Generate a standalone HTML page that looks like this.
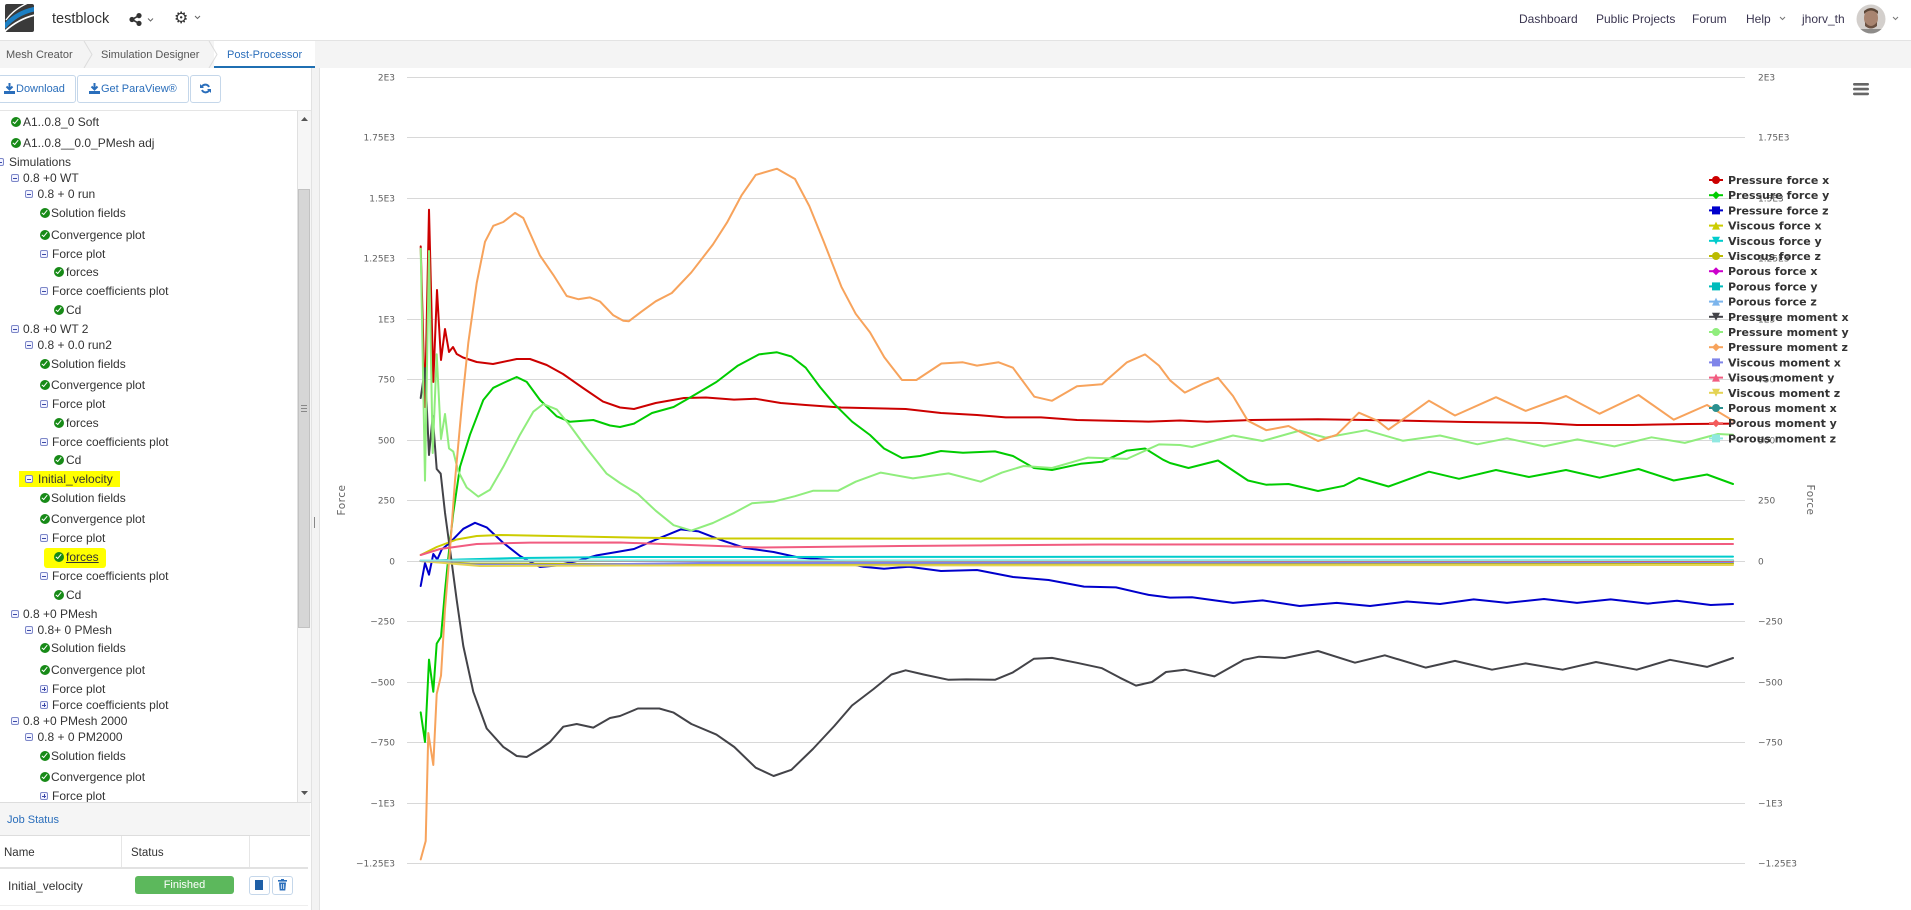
<!DOCTYPE html>
<html><head><meta charset="utf-8">
<style>
html,body{margin:0;padding:0}
body{width:1911px;height:910px;position:relative;overflow:hidden;background:#fff;font-family:"Liberation Sans",sans-serif;color:#333}
.a{position:absolute;white-space:nowrap}
.t{position:absolute;white-space:nowrap;font-size:12px;line-height:14px;color:#333}
.ck{position:absolute;width:10px;height:10px;border-radius:50%;background:#178a17}
.ck:after{content:"";position:absolute;left:3.2px;top:1.4px;width:2.4px;height:5px;border:solid #fff;border-width:0 1.7px 1.7px 0;transform:rotate(40deg)}
.mn{position:absolute;width:6px;height:6px;border:1px solid #7d87c8;border-radius:2px;background:#f2f3ff}
.mn:after{content:"";position:absolute;left:1px;top:2.5px;width:4px;height:1px;background:#3c4aa8}
.pl:before{content:"";position:absolute;left:2.5px;top:1px;width:1px;height:4px;background:#3c4aa8}
.btn{position:absolute;border:1px solid #c5d7ea;border-radius:3px;background:#fff;box-sizing:border-box}
.nav{position:absolute;font-size:12px;line-height:14px;top:12px;color:#3a3550;white-space:nowrap}
</style></head><body>

<!-- top bar -->
<svg class="a" style="left:5px;top:4px" width="29" height="28" viewBox="0 0 29 28">
<rect width="29" height="28" rx="2" fill="#3a3a3a"/>
<path d="M-1 23 Q11 9 30 5" stroke="#1b7fc4" stroke-width="4.5" fill="none"/>
<path d="M-1 28 Q13 15 30 11" stroke="#fff" stroke-width="1.8" fill="none"/>
<path d="M1 16 Q9 5 23 -1" stroke="#fff" stroke-width="1.4" fill="none"/>
</svg>
<div class="a" style="left:52px;top:11px;font-size:14.5px;line-height:17px;color:#333">testblock</div>
<svg class="a" style="left:129px;top:13px" width="30" height="13">
<g fill="#333"><circle cx="3" cy="6.5" r="2.6"/><circle cx="10" cy="2.6" r="2.6"/><circle cx="10" cy="10.4" r="2.6"/></g>
<path d="M3 6.5 L10 2.6 M3 6.5 L10 10.4" stroke="#333" stroke-width="1.6"/>
<path d="M19 5.5 L21.5 8 L24 5.5" stroke="#666" stroke-width="1" fill="none"/>
</svg>
<div class="a" style="left:174px;top:9px;font-family:'DejaVu Sans',sans-serif;font-size:16px;line-height:18px;color:#333">⚙</div>
<svg class="a" style="left:194px;top:15px" width="10" height="6"><path d="M1 1 L3.5 3.5 L6 1" stroke="#666" stroke-width="1" fill="none"/></svg>

<div class="nav" style="left:1519px">Dashboard</div>
<div class="nav" style="left:1596px">Public Projects</div>
<div class="nav" style="left:1692px">Forum</div>
<div class="nav" style="left:1746px">Help</div>
<svg class="a" style="left:1779px;top:16px" width="8" height="5"><path d="M1 1 L3.5 3.5 L6 1" stroke="#777" stroke-width="1" fill="none"/></svg>
<div class="nav" style="left:1802px">jhorv_th</div>
<svg class="a" style="left:1856px;top:4px" width="30" height="30">
<defs><clipPath id="av"><circle cx="15" cy="15" r="14.5"/></clipPath></defs>
<g clip-path="url(#av)">
<rect width="30" height="30" fill="#d3cfcc"/>
<ellipse cx="15" cy="14" rx="7" ry="9" fill="#a88470"/>
<path d="M8 10 Q15 3 22 10 L22 7 Q15 1 8 7Z" fill="#5b4637"/>
<path d="M9 18 Q15 26 21 18 L21 22 Q15 27 9 22Z" fill="#6b5142"/>
<rect x="3" y="25" width="24" height="6" fill="#8e8c8a"/>
</g></svg>
<svg class="a" style="left:1892px;top:16px" width="8" height="5"><path d="M1 1 L3.5 3.5 L6 1" stroke="#777" stroke-width="1" fill="none"/></svg>

<div class="a" style="left:0;top:40px;width:1911px;height:1px;background:#e3e3e3"></div>
<!-- tabs row -->
<div class="a" style="left:0;top:41px;width:1911px;height:27px;background:#f4f4f4"></div>
<div class="a" style="left:214px;top:41px;width:101px;height:25px;background:#fff"></div>
<div class="a" style="left:214px;top:66px;width:101px;height:2px;background:#1f6fb2"></div>
<svg class="a" style="left:0;top:41px" width="320" height="27">
<path d="M84 0 L92 13.5 L84 27" stroke="#dcdcdc" fill="none"/>
<path d="M209 0 L217 13.5 L209 27" stroke="#dcdcdc" fill="none"/>
</svg>
<div class="a" style="left:6px;top:48px;font-size:11px;line-height:14px;color:#555">Mesh Creator</div>
<div class="a" style="left:101px;top:48px;font-size:11px;line-height:14px;color:#555">Simulation Designer</div>
<div class="a" style="left:227px;top:48px;font-size:11px;line-height:14px;color:#2a6ebb">Post-Processor</div>

<!-- splitter -->
<div class="a" style="left:311px;top:68px;width:9px;height:842px;background:#f3f3f3;border-left:1px solid #e2e2e2;border-right:1px solid #e2e2e2;box-sizing:border-box"></div>
<div class="a" style="left:314px;top:517px;width:1px;height:11px;background:#888"></div>

<!-- buttons -->
<div class="btn" style="left:-2px;top:75px;width:78px;height:28px"></div>
<div class="btn" style="left:77px;top:75px;width:112px;height:28px"></div>
<div class="btn" style="left:190px;top:75px;width:31px;height:28px"></div>
<svg class="a" style="left:4px;top:83px" width="11" height="11"><path d="M5.5 0 V6 M2.5 3.5 L5.5 6.5 L8.5 3.5" stroke="#2a6ebb" stroke-width="2" fill="none"/><rect x="0" y="8" width="11" height="3" fill="#2a6ebb"/></svg>
<div class="a" style="left:16px;top:82px;font-size:11px;line-height:14px;color:#2a6ebb">Download</div>
<svg class="a" style="left:89px;top:83px" width="11" height="11"><path d="M5.5 0 V6 M2.5 3.5 L5.5 6.5 L8.5 3.5" stroke="#2a6ebb" stroke-width="2" fill="none"/><rect x="0" y="8" width="11" height="3" fill="#2a6ebb"/></svg>
<div class="a" style="left:101px;top:82px;font-size:11px;line-height:14px;color:#2a6ebb">Get ParaView®</div>
<svg class="a" style="left:200px;top:83px" width="11" height="11"><path d="M9 4 A4 4 0 0 0 2 3.5" stroke="#2a6ebb" stroke-width="2" fill="none"/><path d="M2 7 A4 4 0 0 0 9 7.5" stroke="#2a6ebb" stroke-width="2" fill="none"/><path d="M0 1 L4 5 L0 5Z M11 10 L7 6 L11 6Z" fill="#2a6ebb"/></svg>
<div class="a" style="left:0;top:110px;width:311px;height:1px;background:#e5e5e5"></div>

<!-- tree -->
<div class="a" style="left:0;top:111px;width:297px;height:691px;overflow:hidden">
<div style="position:absolute;left:0;top:-111px;width:297px;height:910px">
<div class="a" style="left:19px;top:471px;width:101px;height:16px;background:#ffff00"></div>
<div class="a" style="left:44px;top:548px;width:62px;height:20px;background:#ffff00;border-radius:3px"></div>

<div class="ck" style="left:11px;top:117px"></div><div class="t" style="left:23px;top:115px">A1..0.8_0 Soft</div>
<div class="ck" style="left:11px;top:138px"></div><div class="t" style="left:23px;top:136px">A1..0.8__0.0_PMesh adj</div>
<div class="mn" style="left:-4px;top:158px"></div><div class="t" style="left:9px;top:155px">Simulations</div>
<div class="mn" style="left:11px;top:174px"></div><div class="t" style="left:23px;top:171px">0.8 +0 WT</div>
<div class="mn" style="left:25px;top:190px"></div><div class="t" style="left:37.5px;top:187px">0.8 + 0 run</div>
<div class="ck" style="left:40px;top:208px"></div><div class="t" style="left:51px;top:206px">Solution fields</div>
<div class="ck" style="left:40px;top:230px"></div><div class="t" style="left:51px;top:228px">Convergence plot</div>
<div class="mn" style="left:40px;top:250px"></div><div class="t" style="left:52px;top:247px">Force plot</div>
<div class="ck" style="left:54px;top:267px"></div><div class="t" style="left:66px;top:265px">forces</div>
<div class="mn" style="left:40px;top:287px"></div><div class="t" style="left:52px;top:284px">Force coefficients plot</div>
<div class="ck" style="left:54px;top:305px"></div><div class="t" style="left:66px;top:303px">Cd</div>
<div class="mn" style="left:11px;top:325px"></div><div class="t" style="left:23px;top:322px">0.8 +0 WT 2</div>
<div class="mn" style="left:25px;top:341px"></div><div class="t" style="left:37.5px;top:338px">0.8 + 0.0 run2</div>
<div class="ck" style="left:40px;top:359px"></div><div class="t" style="left:51px;top:357px">Solution fields</div>
<div class="ck" style="left:40px;top:380px"></div><div class="t" style="left:51px;top:378px">Convergence plot</div>
<div class="mn" style="left:40px;top:400px"></div><div class="t" style="left:52px;top:397px">Force plot</div>
<div class="ck" style="left:54px;top:418px"></div><div class="t" style="left:66px;top:416px">forces</div>
<div class="mn" style="left:40px;top:438px"></div><div class="t" style="left:52px;top:435px">Force coefficients plot</div>
<div class="ck" style="left:54px;top:455px"></div><div class="t" style="left:66px;top:453px">Cd</div>
<div class="mn" style="left:25px;top:475px"></div><div class="t" style="left:38px;top:472px">Initial_velocity</div>
<div class="ck" style="left:40px;top:493px"></div><div class="t" style="left:51px;top:491px">Solution fields</div>
<div class="ck" style="left:40px;top:514px"></div><div class="t" style="left:51px;top:512px">Convergence plot</div>
<div class="mn" style="left:40px;top:534px"></div><div class="t" style="left:52px;top:531px">Force plot</div>
<div class="ck" style="left:54px;top:552px"></div><div class="t" style="left:66px;top:550px;text-decoration:underline">forces</div>
<div class="mn" style="left:40px;top:572px"></div><div class="t" style="left:52px;top:569px">Force coefficients plot</div>
<div class="ck" style="left:54px;top:590px"></div><div class="t" style="left:66px;top:588px">Cd</div>
<div class="mn" style="left:11px;top:610px"></div><div class="t" style="left:23px;top:607px">0.8 +0 PMesh</div>
<div class="mn" style="left:25px;top:626px"></div><div class="t" style="left:37.5px;top:623px">0.8+ 0 PMesh</div>
<div class="ck" style="left:40px;top:643px"></div><div class="t" style="left:51px;top:641px">Solution fields</div>
<div class="ck" style="left:40px;top:665px"></div><div class="t" style="left:51px;top:663px">Convergence plot</div>
<div class="mn pl" style="left:40px;top:685px"></div><div class="t" style="left:52px;top:682px">Force plot</div>
<div class="mn pl" style="left:40px;top:701px"></div><div class="t" style="left:52px;top:698px">Force coefficients plot</div>
<div class="mn" style="left:11px;top:717px"></div><div class="t" style="left:23px;top:714px">0.8 +0 PMesh 2000</div>
<div class="mn" style="left:25px;top:733px"></div><div class="t" style="left:37.5px;top:730px">0.8 + 0 PM2000</div>
<div class="ck" style="left:40px;top:751px"></div><div class="t" style="left:51px;top:749px">Solution fields</div>
<div class="ck" style="left:40px;top:772px"></div><div class="t" style="left:51px;top:770px">Convergence plot</div>
<div class="mn pl" style="left:40px;top:792px"></div><div class="t" style="left:52px;top:789px">Force plot</div>
</div></div>

<!-- scrollbar -->
<div class="a" style="left:297px;top:111px;width:14px;height:691px;background:#f6f6f6;border-left:1px solid #e0e0e0;box-sizing:border-box"></div>
<div class="a" style="left:298px;top:189px;width:12px;height:439px;background:#d6d6d6;border:1px solid #c2c2c2;box-sizing:border-box"></div>
<div class="a" style="left:301px;top:405px;width:6px;height:1px;background:#888"></div>
<div class="a" style="left:301px;top:408px;width:6px;height:1px;background:#888"></div>
<div class="a" style="left:301px;top:411px;width:6px;height:1px;background:#888"></div>
<svg class="a" style="left:300px;top:116px" width="9" height="6"><path d="M1 5 L4.5 1 L8 5Z" fill="#555"/></svg>
<svg class="a" style="left:300px;top:790px" width="9" height="6"><path d="M1 1 L4.5 5 L8 1Z" fill="#555"/></svg>

<!-- job status -->
<div class="a" style="left:0;top:802px;width:311px;height:1px;background:#ddd"></div>
<div class="a" style="left:0;top:803px;width:310px;height:32px;background:#f5f5f5"></div>
<div class="a" style="left:7px;top:813px;font-size:11px;line-height:14px;color:#2a6ebb">Job Status</div>
<div class="a" style="left:0;top:835px;width:310px;height:1px;background:#ddd"></div>
<div class="a" style="left:121px;top:836px;width:1px;height:32px;background:#e6e6e6"></div>
<div class="a" style="left:249px;top:836px;width:1px;height:32px;background:#e6e6e6"></div>
<div class="a" style="left:4px;top:846px;font-size:11.5px;line-height:14px;color:#333">Name</div>
<div class="a" style="left:131px;top:846px;font-size:11.5px;line-height:14px;color:#333">Status</div>
<div class="a" style="left:0;top:867px;width:308px;height:2px;background:#e2e2e2"></div>
<div class="a" style="left:8px;top:879px;font-size:12px;line-height:14px;color:#333">Initial_velocity</div>
<div class="a" style="left:135px;top:876px;width:99px;height:18px;background:#5cb85c;border-radius:3px;color:#fff;font-size:11px;line-height:18px;text-align:center">Finished</div>
<div class="btn" style="left:249px;top:876px;width:21px;height:19px"></div>
<div class="a" style="left:255px;top:880px;width:8px;height:10px;background:#1f5fa6"></div>
<div class="btn" style="left:272px;top:876px;width:21px;height:19px"></div>
<svg class="a" style="left:277px;top:879px" width="11" height="12"><rect x="1" y="1" width="9" height="1.6" fill="#2a6ebb"/><rect x="4" y="0" width="3" height="1.5" fill="#2a6ebb"/><path d="M2 3.5 H9 L8.3 11.5 H2.7Z" fill="#2a6ebb"/><path d="M4.3 5 V10 M6.7 5 V10" stroke="#fff" stroke-width="0.8"/></svg>
<div class="a" style="left:0;top:905px;width:308px;height:1px;background:#eee"></div>

<!-- chart -->
<svg class="a" style="left:0;top:0" width="1911" height="910">
<g stroke="#d8d8d8" stroke-width="1">
<path d="M407 77.5H1745M407 137.5H1745M407 198.5H1745M407 258.5H1745M407 319.5H1745M407 379.5H1745M407 440.5H1745M407 500.5H1745M407 561.5H1745M407 621.5H1745M407 682.5H1745M407 742.5H1745M407 803.5H1745M407 863.5H1745"/>
</g>
<g font-family="DejaVu Sans, sans-serif" font-size="9" fill="#606060" text-anchor="end">
<text x="395" y="80.5">2E3</text><text x="395" y="140.5">1.75E3</text><text x="395" y="201.5">1.5E3</text><text x="395" y="261.5">1.25E3</text><text x="395" y="322.5">1E3</text><text x="395" y="382.5">750</text><text x="395" y="443.5">500</text><text x="395" y="503.5">250</text><text x="395" y="564.5">0</text><text x="395" y="624.5">−250</text><text x="395" y="685.5">−500</text><text x="395" y="745.5">−750</text><text x="395" y="806.5">−1E3</text><text x="395" y="866.5">−1.25E3</text>
</g>
<g font-family="DejaVu Sans, sans-serif" font-size="9" fill="#606060">
<text x="1758" y="80.5">2E3</text><text x="1758" y="140.5">1.75E3</text><text x="1758" y="201.5">1.5E3</text><text x="1758" y="261.5">1.25E3</text><text x="1758" y="322.5">1E3</text><text x="1758" y="382.5">750</text><text x="1758" y="443.5">500</text><text x="1758" y="503.5">250</text><text x="1758" y="564.5">0</text><text x="1758" y="624.5">−250</text><text x="1758" y="685.5">−500</text><text x="1758" y="745.5">−750</text><text x="1758" y="806.5">−1E3</text><text x="1758" y="866.5">−1.25E3</text>
</g>
<text transform="translate(345,500) rotate(-90)" text-anchor="middle" font-family="DejaVu Sans, sans-serif" font-size="10.5" fill="#666" letter-spacing="0.5">Force</text>
<text transform="translate(1807,500) rotate(90)" text-anchor="middle" font-family="DejaVu Sans, sans-serif" font-size="10.5" fill="#666" letter-spacing="0.5">Force</text>

<g fill="none" stroke-width="2" stroke-linejoin="round" stroke-linecap="round">
<polyline stroke="#cc0000" points="420.7,246.4 425,407 429,209.7 433.3,381.9 437,290 441,360 445,329 449,352 453,347 456.7,354 463,357.5 476.7,362 493,364 516.7,359 530,359 546.7,365 563,374 583,388 603,401.6 620,407.5 634,409 655.7,403 684,398 706,397.5 734,399.6 755.7,398.8 780.7,403 805.7,405 841,407.5 905.7,409 941,413 977,415 1005.7,417.4 1041,417.4 1077,420 1148.6,421.6 1180,420.5 1207,421.8 1251.5,420 1318,419.3 1392,420.4 1466,422 1540,423 1577,425 1633,425 1688.5,424 1733,423.6"/>
<polyline stroke="#00cc00" points="420.7,712.4 425,742 429,659.6 433.3,691.8 436.7,643.6 441,636.7 445,590.8 448.7,554 453.3,512.7 460,466.8 470,434.7 483.3,400 493.3,387.8 503.3,383 516.7,377 526.7,381.9 540,400 556.7,416.3 570,421.8 593.3,420 610,425.5 620,427 634,423.6 652,413 673.6,407 691.4,396.7 716.4,382 737.9,365.6 759,354.4 777,352.3 791.4,356.5 805.7,367.7 820,387 834,403.7 852,421.6 870,435 884,448.5 902,458 920,456 941,451 963,452.7 995,451.4 1013,456 1034,468 1052,470 1080.7,463.8 1102,461.8 1127,450.6 1145,448.5 1163,459.7 1170,463 1188.5,468 1218,460.5 1248,480.5 1266,484.7 1288.5,484 1318,491 1344,485.8 1359,478 1388.5,486.5 1429,471.7 1459,478.8 1496,470 1529,477 1566,470 1599.6,477.7 1638.5,469 1673.7,480.5 1707,474.5 1733,484"/>
<polyline stroke="#0000cc" points="420.7,586 425,563 429,574.7 433.3,554 437.3,559.5 441.7,549.5 450,542.6 463.3,528.8 475,522.8 486.7,527.4 503,542.6 520,556 540,567 556.7,565.5 576.7,561 596.7,555.4 616.7,552 634,549 655.7,539.7 680.7,529.4 698.6,531.4 720,539.7 745,548 773.6,552 798.6,557.5 834,560.4 863,566.7 884,568.7 909,566.7 941,571 977,570 1013,577 1048.6,580 1084,586.6 1116,587.4 1148.6,594.9 1170,597.6 1192,597.3 1233,602.9 1262.6,600.4 1299.6,606 1336.7,602.9 1370,606 1407,601.5 1440,604 1473.7,599.4 1507,602.9 1544,599 1577,602.9 1610.7,599.4 1647.8,603.6 1677,600.8 1710.7,605 1733,604"/>
<polyline stroke="#cccc00" points="420.7,555 436.7,547 456.7,539.5 476.7,536 500,535 630,537.5 700,538.5 1733,539"/>
<polyline stroke="#00cccc" points="420.7,561 460,559.5 520,558 620,557 1733,556.6"/>
<polyline stroke="#bbbb00" points="420.7,561 470,563.5 600,564 1733,563.5"/>
<polyline stroke="#cc00cc" points="420.7,560.7 1733,560.7"/>
<polyline stroke="#00bbbb" points="420.7,560.7 1733,560.7"/>
<polyline stroke="#7cb5ec" points="420.7,560.7 1733,560.7"/>
<polyline stroke="#434348" points="420.7,398 425,368 429,455 432.7,416 436.7,469 440.7,473.7 445,512.7 450,549.5 456.7,600 463.3,646 473.3,691.8 486.7,728.5 503.3,746.9 516.7,756 526.7,757 540,749 550,742 563.3,726.7 576.7,724 593.3,727.6 610,718 620,716 637.9,708.5 659.3,708.5 673.6,712.6 691.4,724 716.4,734.6 734.3,747 755.7,767.7 773.6,776 791.4,769.8 812.9,749 834.3,726 852,705.5 873.6,689 891.4,674.5 905.7,670.3 923.6,674.5 948.6,679.8 966.4,679.4 995,679.8 1012.9,672.4 1034,658.7 1052,657.9 1077,662.8 1102,668.2 1120,677.8 1136,685.6 1152,682 1166,672 1184.8,669.7 1214.4,676.4 1244,659.8 1259,656.7 1284.8,658 1318,651 1355,662.7 1384.8,655.3 1425.6,667.6 1455,660.9 1492,669.7 1525.6,663.4 1562.6,669.7 1596,662 1636.7,669.7 1670,659.8 1707,666.9 1733,658"/>
<polyline stroke="#90ed7d" points="420.7,248.7 425,480.6 429,251 432.7,453 436.7,354.3 441,439 445,414 449,448.4 453.3,451.6 458.3,471.4 466.7,487.5 478.3,496.6 490,489.8 503.3,466.8 520,434.7 533.3,411.7 543.3,404 556.7,409.4 570,425.5 586.7,448.4 606.7,473.7 620,483 637.9,494 655.7,510.7 673.6,525.2 691.4,530.6 712.9,523 734.3,512.8 752,503.2 773.6,501.6 795,496.2 812.9,490.8 837.9,490.8 855.7,481.7 880.7,472.6 912.9,478.4 948.6,473.4 980.7,481.7 1002,472.6 1023.6,466 1052,468 1088,457.6 1127,458.9 1159,444.4 1180,445 1192,447 1233,435.5 1262.6,441 1299.6,430.6 1325.6,437.6 1366.3,430.2 1403,440.8 1440,435.5 1477.4,444.3 1507,438.3 1544,446.4 1577.4,439.4 1614.4,446.4 1651.5,437.3 1684.8,442.9 1718,434 1733,434.8"/>
<polyline stroke="#f7a35c" points="420.7,859.4 425.7,841 428.3,733 433.3,765 436.7,694 441,675.7 445,609 450,549.5 455,480.6 461.7,407 468.3,342.8 476.7,283 485,241.8 493.3,225.8 503.3,222 515,212.9 523.3,218 540,255.6 553.3,274.9 566.7,296 578.3,299.2 590,297.4 600,301.5 613.3,315.3 623.3,320.8 628.9,321.2 641.4,311.7 655.7,301.3 671.8,293 691.4,272.3 712.9,244.5 727,222.6 741.4,195.6 755.7,174.9 777,168.7 795,179 809.3,206 823.6,241.2 841.4,286.8 855.7,313.8 870,332.4 884.3,357.3 902,380 916.4,380 941.4,363.5 962.9,362.3 977,365.6 998.6,362.3 1012.9,367.7 1034.3,396.7 1052,400.8 1077,386.3 1102,384.2 1127,362.3 1145,354.4 1159,365.6 1170,380.3 1184.8,392.6 1203,383.8 1218,377.8 1233,396 1247.8,420.7 1266.3,430.2 1288.5,426 1318,441 1336.7,434.8 1358.9,412.7 1377.4,420.7 1388.5,429.5 1407,416.5 1429,400.7 1455,415.5 1496,397.2 1525.6,410.9 1566,396 1599.6,413.7 1638.5,395 1673.7,419.7 1707,405 1733,420.7"/>
<polyline stroke="#8085e9" points="420.7,561 470,564.5 560,565 700,563 1733,562"/>
<polyline stroke="#f15c80" points="420.7,555 440,549 476.7,544 530,542.6 620,542.5 760,547.5 900,546 1100,544.5 1733,544"/>
<polyline stroke="#e4d354" points="420.7,561 480,566 620,565.5 1733,565"/>
<polyline stroke="#2b908f" points="420.7,560.7 1733,560.7"/>
<polyline stroke="#f45b5b" points="420.7,560.7 1733,560.7"/>
<polyline stroke="#91e8e1" points="420.7,560.5 1733,560"/>
</g>

<!-- legend -->
<g stroke-width="2">
<path d="M1709 180H1723" stroke="#cc0000"/><circle cx="1716" cy="180" r="4" fill="#cc0000"/>
<path d="M1709 195.2H1723" stroke="#00cc00"/><path d="M1716 191.2L1720 195.2L1716 199.2L1712 195.2Z" fill="#00cc00"/>
<path d="M1709 210.4H1723" stroke="#0000cc"/><rect x="1712" y="206.4" width="8" height="8" fill="#0000cc"/>
<path d="M1709 225.6H1723" stroke="#cccc00"/><path d="M1716 221.6L1720 229.6L1712 229.6Z" fill="#cccc00"/>
<path d="M1709 240.8H1723" stroke="#00cccc"/><path d="M1712 236.8L1720 236.8L1716 244.8Z" fill="#00cccc"/>
<path d="M1709 256H1723" stroke="#bbbb00"/><circle cx="1716" cy="256" r="4" fill="#bbbb00"/>
<path d="M1709 271.2H1723" stroke="#cc00cc"/><path d="M1716 267.2L1720 271.2L1716 275.2L1712 271.2Z" fill="#cc00cc"/>
<path d="M1709 286.4H1723" stroke="#00bbbb"/><rect x="1712" y="282.4" width="8" height="8" fill="#00bbbb"/>
<path d="M1709 301.6H1723" stroke="#7cb5ec"/><path d="M1716 297.6L1720 305.6L1712 305.6Z" fill="#7cb5ec"/>
<path d="M1709 316.8H1723" stroke="#434348"/><path d="M1712 312.8L1720 312.8L1716 320.8Z" fill="#434348"/>
<path d="M1709 332H1723" stroke="#90ed7d"/><circle cx="1716" cy="332" r="4" fill="#90ed7d"/>
<path d="M1709 347.2H1723" stroke="#f7a35c"/><path d="M1716 343.2L1720 347.2L1716 351.2L1712 347.2Z" fill="#f7a35c"/>
<path d="M1709 362.4H1723" stroke="#8085e9"/><rect x="1712" y="358.4" width="8" height="8" fill="#8085e9"/>
<path d="M1709 377.6H1723" stroke="#f15c80"/><path d="M1716 373.6L1720 381.6L1712 381.6Z" fill="#f15c80"/>
<path d="M1709 392.8H1723" stroke="#e4d354"/><path d="M1712 388.8L1720 388.8L1716 396.8Z" fill="#e4d354"/>
<path d="M1709 408H1723" stroke="#2b908f"/><circle cx="1716" cy="408" r="4" fill="#2b908f"/>
<path d="M1709 423.2H1723" stroke="#f45b5b"/><path d="M1716 419.2L1720 423.2L1716 427.2L1712 423.2Z" fill="#f45b5b"/>
<path d="M1709 438.4H1723" stroke="#91e8e1"/><rect x="1712" y="434.4" width="8" height="8" fill="#91e8e1"/>
</g>
<g font-family="DejaVu Sans, sans-serif" font-size="11" font-weight="bold" fill="#333">
<text x="1728" y="184">Pressure force x</text>
<text x="1728" y="199.2">Pressure force y</text>
<text x="1728" y="214.4">Pressure force z</text>
<text x="1728" y="229.6">Viscous force x</text>
<text x="1728" y="244.8">Viscous force y</text>
<text x="1728" y="260">Viscous force z</text>
<text x="1728" y="275.2">Porous force x</text>
<text x="1728" y="290.4">Porous force y</text>
<text x="1728" y="305.6">Porous force z</text>
<text x="1728" y="320.8">Pressure moment x</text>
<text x="1728" y="336">Pressure moment y</text>
<text x="1728" y="351.2">Pressure moment z</text>
<text x="1728" y="366.4">Viscous moment x</text>
<text x="1728" y="381.6">Visous moment y</text>
<text x="1728" y="396.8">Viscous moment z</text>
<text x="1728" y="412">Porous moment x</text>
<text x="1728" y="427.2">Porous moment y</text>
<text x="1728" y="442.4">Porous moment z</text>
</g>
<g fill="#666">
<rect x="1853" y="83" width="16" height="2.6" rx="1.2"/>
<rect x="1853" y="87.8" width="16" height="2.6" rx="1.2"/>
<rect x="1853" y="92.6" width="16" height="2.6" rx="1.2"/>
</g>
</svg>
</body></html>
